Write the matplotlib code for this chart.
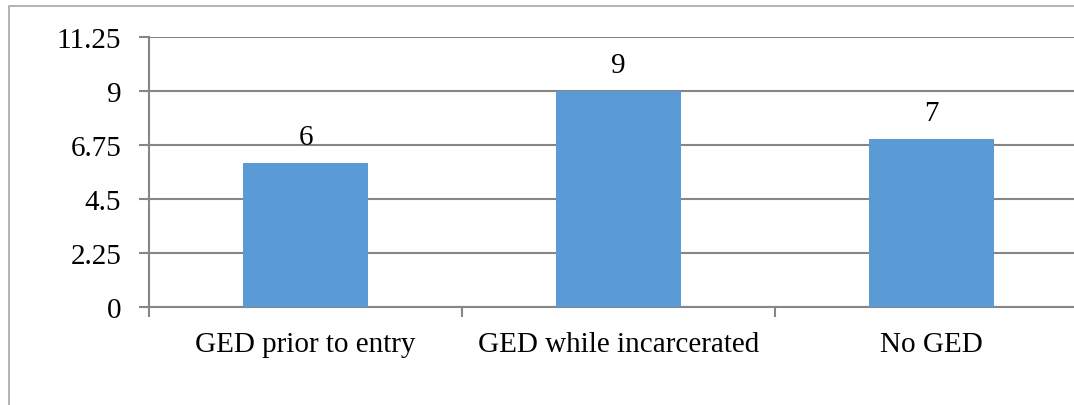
import matplotlib.pyplot as plt
from matplotlib.patches import Rectangle
import numpy as np

# data
categories = ['GED prior to entry', 'GED while incarcerated', 'No GED']
values = [6, 9, 7]
yticks = [0, 2.25, 4.5, 6.75, 9, 11.25]
ytick_labels = ['0', '2.25', '4.5', '6.75', '9', '11.25']

plt.rcParams['font.family'] = ['Liberation Serif', 'DejaVu Serif']

fig = plt.figure(figsize=(10.74, 4.06), dpi=100)

# outer chart border (cropped on right and bottom)
fig.patches.append(Rectangle((9 / 1074, -0.1), 1.2, (406 - 7) / 406 + 0.1,
                             transform=fig.transFigure, fill=False,
                             edgecolor='#a6a6a6', linewidth=1.2))

ax = fig.add_axes([149 / 1074, 98 / 406, 939 / 1074, 270 / 406])

x = np.arange(len(categories))
ax.bar(x, values, width=0.4, color='#5b9bd5', zorder=3)

for xi, v in zip(x, values):
    ax.text(xi, v + 0.55, str(v), ha='center', va='bottom', fontsize=21)

ax.set_xlim(-0.5, 2.5)
ax.set_ylim(0, 11.25)
ax.set_yticks(yticks)
ax.set_yticklabels(ytick_labels, fontsize=21)
ax.yaxis.grid(True, color='#868686', linewidth=1.5, zorder=0)

ax.set_xticks(x)
ax.set_xticklabels(categories, fontsize=21)
ax.set_xticks([-0.5, 0.5, 1.5, 2.5], minor=True)
ax.tick_params(axis='x', which='major', length=0, pad=17)
ax.tick_params(axis='x', which='minor', length=7, width=1.5, color='#868686')
ax.tick_params(axis='y', length=7, width=1.5, color='#868686', pad=13)

for s in ['top', 'right']:
    ax.spines[s].set_visible(False)
for s in ['left', 'bottom']:
    ax.spines[s].set_color('#868686')
    ax.spines[s].set_linewidth(1.5)

fig.savefig('out.png', dpi=100)
